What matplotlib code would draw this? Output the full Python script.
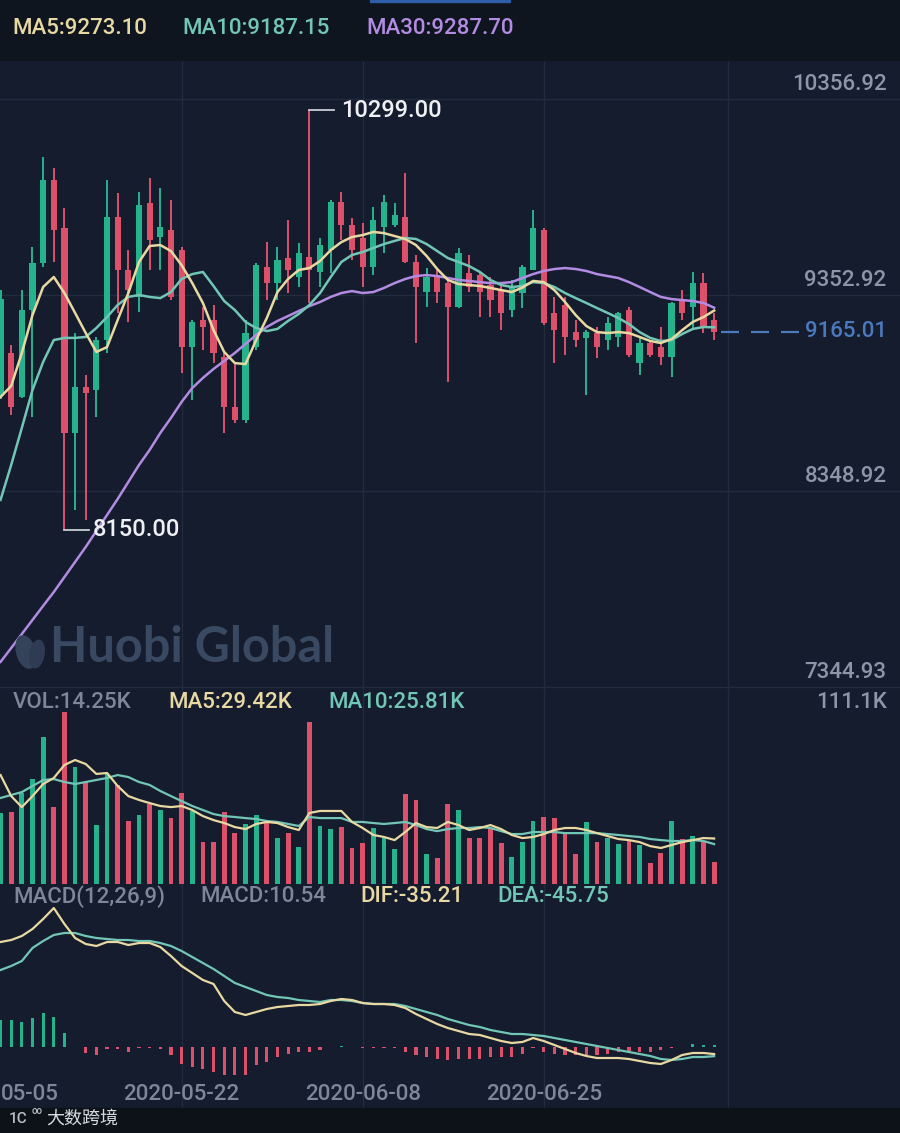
import matplotlib
matplotlib.use("Agg")
import matplotlib.pyplot as plt
import matplotlib.transforms as mtransforms
from matplotlib.patches import Rectangle, Ellipse
import numpy as np
import pandas as pd

plt.rcParams['font.family'] = ['Roboto', 'DejaVu Sans']

# ===== DATA =====
start_date = "2020-05-05"
tick_dates = ["2020-05-05", "2020-05-22", "2020-06-08", "2020-06-25"]

opens = [8850, 9056, 8830, 9276, 9517, 9942, 9696, 8646, 8881, 8866, 9122, 9753, 9481, 9342, 9824, 9650, 9686,
         9583, 9087, 9224, 9224, 9035, 8779, 8713, 9087, 9496, 9414, 9542, 9445, 9548, 9470, 9583, 9829, 9711,
         9645, 9496, 9701, 9711, 9753, 9522, 9368, 9455, 9414, 9291, 9466, 9455, 9404, 9378, 9276, 9363, 9481,
         9686, 9260, 9301, 9163, 9133, 9158, 9122, 9138, 9276, 9004, 9107, 9087, 9035, 9327, 9291, 9414, 9225]
highs = [9380, 9097, 9379, 9599, 10060, 10003, 9798, 9158, 8943, 9138, 9942, 9875, 9583, 9880, 9952, 9901, 9839,
         9599, 9224, 9291, 9301, 9056, 9004, 9224, 9515, 9624, 9599, 9737, 9619, 10299, 9645, 9839, 9880, 9747,
         9722, 9803, 9865, 9824, 9978, 9558, 9491, 9481, 9430, 9594, 9558, 9470, 9445, 9404, 9430, 9506, 9788,
         9696, 9342, 9342, 9224, 9174, 9189, 9240, 9266, 9291, 9138, 9112, 9189, 9317, 9378, 9470, 9465, 9260]
lows = [8820, 8738, 8825, 8728, 9496, 9522, 8150, 8252, 8201, 8728, 9056, 9260, 9214, 9266, 9481, 9481, 9327,
        8953, 8815, 9071, 9004, 8646, 8697, 8697, 9071, 9327, 9327, 9363, 9394, 9312, 9394, 9466, 9634, 9532,
        9394, 9455, 9568, 9701, 9517, 9107, 9291, 9312, 8907, 9286, 9368, 9240, 9240, 9173, 9240, 9286, 9481,
        9199, 9004, 9045, 9087, 8840, 9030, 9071, 9087, 9035, 8943, 9035, 8994, 8933, 9224, 9173, 9158, 9120]
closes = [9330, 8779, 9276, 9517, 9942, 9686, 8646, 8881, 8850, 9122, 9753, 9481, 9378, 9814, 9634, 9700, 9342,
          9087, 9214, 9189, 9056, 8779, 8713, 9158, 9506, 9414, 9532, 9481, 9568, 9481, 9609, 9829, 9711, 9583,
          9496, 9737, 9829, 9763, 9522, 9394, 9445, 9368, 9291, 9568, 9394, 9368, 9327, 9260, 9394, 9496, 9696,
          9209, 9174, 9138, 9122, 9163, 9087, 9209, 9260, 9045, 9107, 9045, 9035, 9312, 9260, 9414, 9189, 9165.01]

ma5 = [8830, 8887, 9056, 9250, 9394, 9445, 9363, 9261, 9158, 9061, 9086, 9225, 9363, 9522, 9604, 9609, 9578,
       9506, 9414, 9312, 9173, 9061, 9004, 8999, 9122, 9235, 9368, 9435, 9481, 9491, 9527, 9583, 9624, 9650,
       9660, 9676, 9670, 9655, 9640, 9609, 9553, 9486, 9430, 9409, 9404, 9399, 9389, 9378, 9368, 9391, 9425,
       9419, 9378, 9317, 9250, 9194, 9163, 9158, 9163, 9158, 9138, 9117, 9107, 9127, 9173, 9215, 9240, 9273.10]
ma10 = [8303, 8482, 8672, 8866, 9010, 9122, 9133, 9133, 9138, 9184, 9240, 9302, 9343, 9353, 9343, 9337, 9368,
        9435, 9460, 9471, 9399, 9322, 9276, 9215, 9184, 9168, 9179, 9220, 9256, 9302, 9363, 9445, 9522, 9558,
        9573, 9594, 9614, 9630, 9645, 9640, 9614, 9578, 9542, 9522, 9501, 9471, 9430, 9404, 9394, 9399, 9419,
        9414, 9394, 9363, 9337, 9312, 9286, 9261, 9235, 9204, 9163, 9133, 9117, 9122, 9153, 9179, 9189, 9187.15]
ma30 = [7473, 7544, 7616, 7688, 7760, 7831, 7908, 7985, 8062, 8144, 8226, 8308, 8395, 8482, 8559, 8646, 8723,
        8805, 8876, 8928, 8974, 9015, 9056, 9102, 9148, 9189, 9220, 9245, 9271, 9296, 9317, 9343, 9363, 9373,
        9363, 9368, 9389, 9414, 9435, 9450, 9455, 9450, 9440, 9430, 9425, 9419, 9414, 9414, 9419, 9440, 9460,
        9476, 9486, 9491, 9486, 9476, 9460, 9450, 9440, 9419, 9394, 9368, 9343, 9332, 9327, 9322, 9312, 9287.70]

volumes = [46, 46.5, 59, 68, 95, 50, 111, 75.6, 66, 38, 72, 64, 41, 44.6, 52, 48, 42.6, 59, 47, 27, 27, 46.5,
           33, 39, 44.6, 40, 30, 33, 24, 104.6, 37.5, 35.5, 37, 23.5, 26.5, 36, 29.6, 22.6, 58, 54, 19.4, 17,
           52, 48, 29.6, 29.6, 36, 26.5, 17.4, 27, 40.7, 43.3, 42.6, 33.6, 19.4, 40, 27, 29.6, 25.8, 28.4, 25,
           13.6, 20, 41, 29, 31, 27.8, 14.25]
vol_ma5 = [70.4, 56.8, 49.7, 56.8, 64.6, 68.5, 76.9, 80.1, 77.5, 71.1, 71.7, 63.3, 56.8, 54.3, 52.3, 50.4, 49.7,
           50.4, 47.8, 43.9, 41.3, 39.4, 36.8, 35.5, 38.8, 40.1, 39.4, 36.8, 34.9, 45.9, 47.2, 47.2, 47.2, 40.1,
           36.2, 31.7, 30.4, 28.4, 33.6, 39.4, 36.8, 36.2, 40.1, 38.1, 34.9, 36.2, 38.1, 35.5, 31.7, 29.7, 30.4,
           32.3, 34.9, 36.2, 36.2, 34.9, 32.9, 31.0, 29.1, 28.4, 27.1, 24.5, 23.3, 25.2, 27.1, 28.4, 29.7, 29.42]
vol_ma10 = [55.6, 57.5, 59.4, 63.3, 67.2, 67.8, 65.9, 64.6, 65.9, 67.2, 68.5, 70.4, 69.1, 65.9, 64.0, 60.1, 56.8,
            53.6, 50.4, 47.8, 45.2, 43.9, 43.3, 42.6, 42.0, 40.7, 40.1, 38.8, 37.5, 43.3, 42.6, 42.6, 42.6, 40.1,
            40.1, 39.4, 38.8, 39.4, 40.1, 38.1, 35.5, 34.2, 35.5, 36.2, 36.2, 36.8, 36.2, 34.2, 32.3, 32.3, 33.6,
            33.6, 33.6, 32.9, 32.9, 32.9, 32.9, 32.3, 31.7, 31.0, 30.4, 29.1, 28.4, 27.8, 27.8, 28.4, 27.8, 25.81]

dif = [525, 535, 555, 590, 640, 695, 615, 545, 515, 505, 525, 525, 510, 520, 520, 500, 455, 405, 370, 335, 315,
       230, 175, 160, 175, 190, 200, 205, 210, 210, 215, 230, 240, 235, 220, 215, 215, 210, 195, 165, 140, 115,
       95, 80, 65, 60, 45, 30, 20, 25, 45, 30, 10, -10, -30, -45, -55, -55, -55, -60, -70, -80, -85, -65, -40,
       -30, -30, -35.21]
dea = [385, 405, 430, 495, 530, 560, 570, 570, 555, 545, 540, 535, 535, 530, 530, 520, 505, 480, 450, 420, 390,
       355, 320, 300, 280, 260, 250, 245, 235, 230, 225, 235, 235, 230, 220, 215, 215, 215, 205, 190, 175, 160,
       140, 125, 110, 100, 85, 75, 65, 65, 60, 55, 45, 35, 25, 15, 5, -5, -15, -25, -35, -45, -60, -65, -60, -50,
       -50, -45.75]
macd_hist = [135, 135, 125, 145, 170, 150, 70, 0, -30, -40, -10, -10, -25, -5, -5, -10, -40, -85, -100, -110,
             -125, -150, -165, -140, -90, -75, -50, -35, -25, -25, -15, 0, 5, 0, -5, -5, -5, -5, -25, -40, -50,
             -60, -65, -60, -60, -60, -50, -50, -50, -35, -5, -25, -35, -40, -40, -40, -40, -35, -25, -25, -25,
             -25, -15, -5, 0, 15, 10, 10.54]

price_levels = [10356.92, 9352.92, 8348.92, 7344.93]
vol_top_label = "111.1K"

# ===== STYLE =====
W, H = 900, 1133
BG = '#141c2d'
HEADER = '#0f151f'
GRID = '#222c3e'
GREEN = '#25b38e'
RED = '#dc5069'
C_MA5 = '#e8d8a2'
C_MA10 = '#72c6b6'
C_MA30 = '#b38be3'
GRAY = '#7e879a'
AXIS_TXT = '#8d96a8'
BLUE = '#4a79bd'
FS = 16
FW = 500
LW = 1.8

dates = pd.date_range(start_date, periods=len(closes))
x = np.arange(len(closes))
o = np.array(opens); c = np.array(closes)
hi = np.array(highs); lo = np.array(lows)
up = c >= o
cols = np.where(up, GREEN, RED)
XLIM = (-0.05, 84.45)

fig = plt.figure(figsize=(W / 100, H / 100), dpi=100)
fig.patch.set_facecolor(BG)


def px_axes(top, bottom):
    a = fig.add_axes([0, 1 - bottom / H, 1, (bottom - top) / H])
    a.set_xlim(*XLIM)
    a.axis('off')
    a.patch.set_alpha(0)
    return a


def fy(py):
    return 1 - py / H


def label(px, py, s, color, ha='left', **kw):
    kw.setdefault('fontsize', FS)
    kw.setdefault('fontweight', FW)
    fig.text(px / W, fy(py), s, color=color, ha=ha, va='center', **kw)


# background with vertical grid
ax_bg = px_axes(0, 1108)
ax_bg.set_ylim(0, 1)
fig.patches.append(Rectangle((0, fy(60)), 1, 60 / H, transform=fig.transFigure, color=HEADER, zorder=0))
fig.patches.append(Rectangle((0, 0), 1, fy(1108), transform=fig.transFigure, color='#0d1219', zorder=0))
tick_idx = [int(np.where(dates == pd.Timestamp(d))[0][0]) for d in tick_dates]
for ti in tick_idx[1:]:
    ax_bg.axvline(ti, color=GRID, lw=1)
ax_bg.axvline(len(closes) + 0.3, color=GRID, lw=1)

# ===== MAIN PANEL =====
ax = px_axes(60, 690)
ax.set_ylim(7329, 10557)
for lv in price_levels:
    ax.axhline(lv, color=GRID, lw=1, zorder=0)
    ax.annotate(f"{lv:.2f}", xy=(0.985, lv), xycoords=ax.get_yaxis_transform(), xytext=(0, 3),
                textcoords='offset points', ha='right', va='bottom', color=AXIS_TXT, fontsize=FS,
                fontweight=FW)

ax.vlines(x, lo, hi, color=cols, lw=1.4, zorder=2)
body = np.maximum(np.abs(c - o), 8)
ax.bar(x, body, bottom=np.minimum(o, c), width=0.58, color=cols, zorder=2)
ax.plot(x, ma30, color=C_MA30, lw=LW, zorder=3)
ax.plot(x, ma10, color=C_MA10, lw=LW, zorder=3)
ax.plot(x, ma5, color=C_MA5, lw=LW, zorder=3)

# max / min markers
imax = int(np.argmax(hi)); imin = int(np.argmin(lo))
ax.plot([imax, imax + 2.3], [hi[imax], hi[imax]], color='#c8ccd4', lw=1.3)
ax.text(imax + 3.0, hi[imax], f"{hi[imax]:.2f}", color='#eef0f3', fontsize=17, fontweight=FW,
        va='center', ha='left')
ax.plot([imin, imin + 2.3], [lo[imin], lo[imin]], color='#c8ccd4', lw=1.3)
ax.text(imin + 2.7, lo[imin], f"{lo[imin]:.2f}", color='#eef0f3', fontsize=17, fontweight=FW,
        va='center', ha='left')

# last price
last = closes[-1]
ln, = ax.plot([x[-1] + 0.6, 75.1], [last, last], color=BLUE, lw=1.6)
ln.set_dashes((13 / 1.6, 8.6 / 1.6))
ax.text(0.985, last, f"{last:.2f}", transform=ax.get_yaxis_transform(), ha='right', va='center',
        color=BLUE, fontsize=FS, fontweight=FW)

# watermark
label(50, 648, "Huobi Global", '#3a4962', fontsize=35, fontweight='bold', family=['Lato', 'DejaVu Sans'])
fig.patches.append(Ellipse((26 / W, fy(652)), 18 / W, 34 / H, angle=25, transform=fig.transFigure,
                           color='#34425a', zorder=1))
fig.patches.append(Ellipse((37 / W, fy(654)), 14 / W, 28 / H, angle=-15, transform=fig.transFigure,
                           color='#2e3b52', zorder=1))

# header legend
label(12, 28, f"MA5:{ma5[-1]:.2f}", C_MA5)
label(182, 28, f"MA10:{ma10[-1]:.2f}", C_MA10)
label(366, 28, f"MA30:{ma30[-1]:.2f}", C_MA30)
fig.patches.append(Rectangle((370 / W, fy(2)), 140 / W, 2 / H, transform=fig.transFigure, color='#2f5ea8'))

# ===== VOLUME PANEL =====
axv = px_axes(690, 885)
axv.set_ylim(-0.6, 125.3)
axv.bar(x, volumes, width=0.45, color=cols)
axv.plot(x, vol_ma10, color=C_MA10, lw=1.6)
axv.plot(x, vol_ma5, color=C_MA5, lw=1.6)
label(13, 703, f"VOL:{volumes[-1]:.2f}K", GRAY)
label(168, 703, f"MA5:{vol_ma5[-1]:.2f}K", C_MA5)
label(328, 703, f"MA10:{vol_ma10[-1]:.2f}K", C_MA10)
label(887, 703, vol_top_label, AXIS_TXT, ha='right')

# ===== MACD PANEL =====
axm = px_axes(885, 1075)
axm.set_ylim(-140, 810)
h = np.array(macd_hist)
axm.bar(x, h, width=0.3, color=np.where(h >= 0, GREEN, RED))
axm.plot(x, dea, color=C_MA10, lw=1.6)
axm.plot(x, dif, color=C_MA5, lw=1.6)
label(13, 897, "MACD(12,26,9)", GRAY)
label(200, 897, f"MACD:{macd_hist[-1]:.2f}", GRAY)
label(360, 897, f"DIF:{dif[-1]:.2f}", C_MA5)
label(497, 897, f"DEA:{dea[-1]:.2f}", C_MA10)

# date labels (first one is cut by the left edge in the screenshot: only its visible part)
tr = mtransforms.blended_transform_factory(ax_bg.transData, fig.transFigure)
for ti, d in zip(tick_idx, tick_dates):
    if ti == 0:
        label(1, 1095, d[5:], GRAY)
    else:
        ax_bg.text(ti, fy(1095), d, transform=tr, ha='center', va='center', color=GRAY, fontsize=FS,
                   fontweight=FW)

# bottom watermark
label(9, 1119, "1C", '#b8bec8', fontsize=11)
label(32, 1111, "oo", '#b8bec8', fontsize=7)
label(46, 1119, "大数跨境", '#d6dae0', fontsize=13, family=['Noto Sans CJK SC', 'DejaVu Sans'])

fig.savefig("out.png", dpi=100, facecolor=BG)
